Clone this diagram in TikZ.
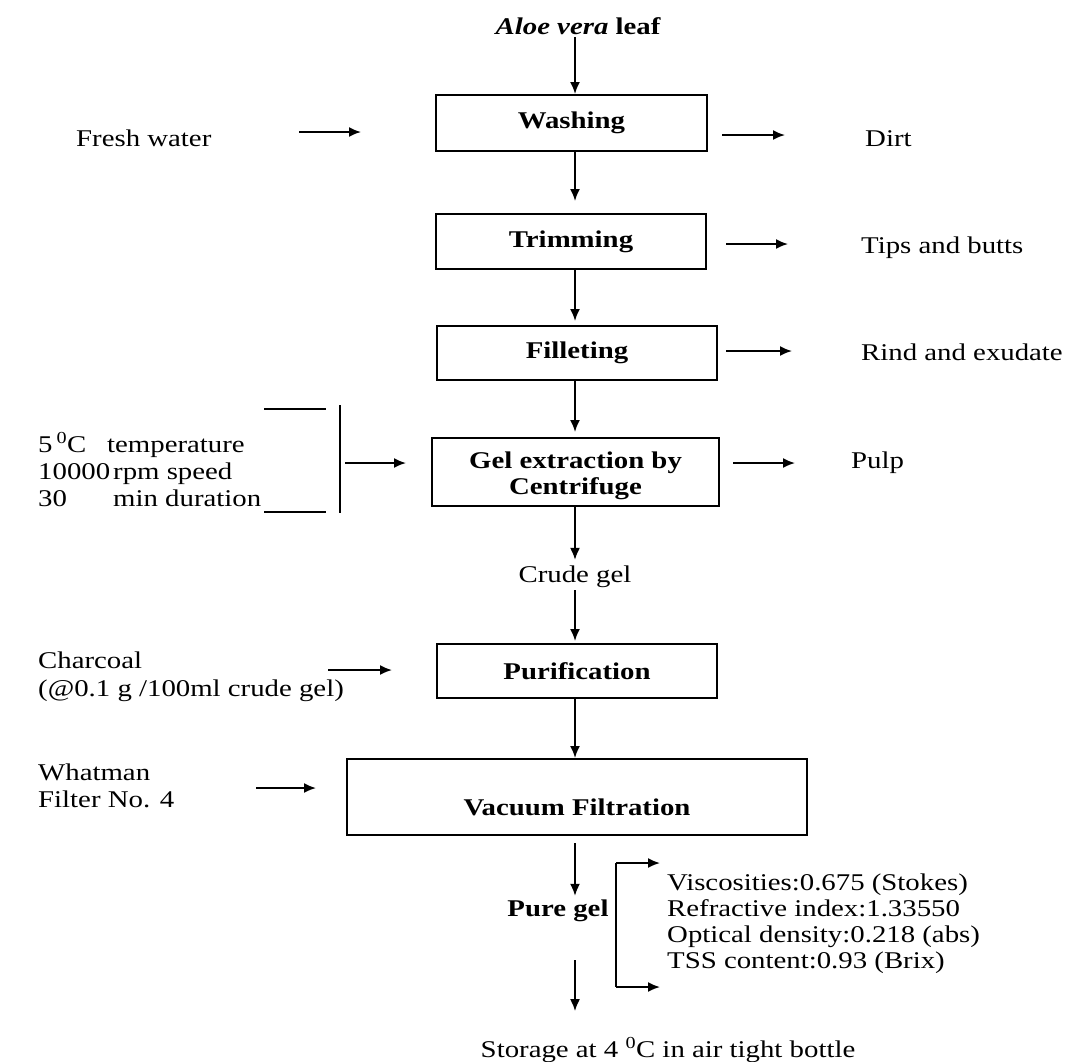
\documentclass[tikz,border=0pt]{standalone}
\usepackage{fontspec}
\setmainfont{Liberation Serif}[FakeStretch=1.2]
\usetikzlibrary{arrows.meta}
\begin{document}
\begin{tikzpicture}[x=1pt,y=-1pt,
  font=\fontsize{24}{26.5}\selectfont,
  box/.style={draw,line width=2pt,inner sep=0pt,align=center,font=\fontsize{24}{26}\selectfont\bfseries},
  lbl/.style={inner sep=0pt,align=left},
  blbl/.style={inner sep=0pt,align=center,font=\fontsize{24}{26.5}\selectfont\bfseries},
  arr/.style={line width=1.8pt,-{Latex[length=12pt,width=10pt]}},
  ln/.style={line width=1.8pt}]
\fill[white] (0,0) rectangle (1084,1061);
\useasboundingbox (0,0) rectangle (1084,1061);
\coordinate (sp) at (575,0);
% main column
\node[blbl] (aloe) at (578,26) {\textit{Aloe vera} leaf};
\node[box,minimum width=271pt,minimum height=56pt] (wash) at (571.5,123) {Washing};
\node[box,minimum width=270pt,minimum height=55pt] (trim) at (571,241.5) {Trimming};
\node[box,minimum width=280pt,minimum height=54pt] (fill) at (577,353) {Filleting};
\node[box,minimum width=287pt,minimum height=68pt] (gel) at (575.5,472) {};
\node[blbl] (gelt) at (575.5,476) {Gel extraction by\\Centrifuge};
\node[lbl] (crude) at (575,577) {Crude gel};
\node[box,minimum width=280pt,minimum height=54pt] (pur) at (577,671) {Purification};
\node[box,minimum width=460pt,minimum height=76pt] (vac) at (577,797) {};
\node[blbl] (vact) at (577,807) {Vacuum Filtration};
\node[blbl] (pure) at (558,911) {Pure gel};
\node[lbl] (store) at (668,1050) {Storage at 4 \textsuperscript{0}C in air tight bottle};
% vertical arrows
\draw[arr,shorten <=2pt] (aloe.south -| sp) -- (wash.north -| sp);
\draw[arr,shorten >=12pt] (wash.south -| sp) -- (trim.north -| sp);
\draw[arr,shorten >=4pt] (trim.south -| sp) -- (fill.north -| sp);
\draw[arr,shorten >=5pt] (fill.south -| sp) -- (gel.north -| sp);
\draw[arr,shorten >=6pt] (gel.south -| sp) -- (crude.north -| sp);
\draw[arr,shorten <=2pt,shorten >=2pt] (crude.south -| sp) -- (pur.north -| sp);
\draw[arr] (pur.south -| sp) -- (vac.north -| sp);
\draw[arr,shorten <=7pt,shorten >=4pt] (vac.south -| sp) -- (pure.north -| sp);
\draw[arr,shorten <=38pt,shorten >=26pt] (pure.south -| sp) -- (store.north -| sp);
% side texts
\node[lbl,anchor=west] (fresh) at (76,138) {Fresh water};
\node[lbl,anchor=west] (dirt) at (865,139) {Dirt};
\node[lbl,anchor=west] (tips) at (861,248) {Tips and butts};
\node[lbl,anchor=west] (rind) at (861,352) {Rind and exudate};
\node[lbl,anchor=west] (pulp) at (851,463) {Pulp};
\node[lbl,anchor=west,font=\fontsize{24}{27}\selectfont] (cond) at (38,470)
  {\makebox[69pt][l]{5\,\textsuperscript{0}C}temperature\\
   10000\hspace{3pt}rpm speed\\
   \makebox[75pt][l]{30}min duration};
\node[lbl,anchor=west,font=\fontsize{24}{28}\selectfont] (charc) at (38,677) {Charcoal\\(@0.1 g /100ml crude gel)};
\node[lbl,anchor=west,font=\fontsize{24}{27}\selectfont] (what) at (38,786) {Whatman\\Filter No. 4};
\node[lbl,anchor=west,font=\fontsize{24}{26}\selectfont] (props) at (667,924)
  {Viscosities:0.675 (Stokes)\\Refractive index:1.33550\\Optical density:0.218 (abs)\\TSS content:0.93 (Brix)};
% side arrows
\coordinate (fw1) at (299,132); \coordinate (fw2) at (361,132);
\draw[arr] (fw1) -- (fw2);
\coordinate (di1) at (722,135); \coordinate (di2) at (785,135);
\draw[arr] (di1) -- (di2);
\coordinate (ti1) at (726,244); \coordinate (ti2) at (788,244);
\draw[arr] (ti1) -- (ti2);
\coordinate (ri1) at (726,351); \coordinate (ri2) at (792,351);
\draw[arr] (ri1) -- (ri2);
\coordinate (pu1) at (733,463); \coordinate (pu2) at (795,463);
\draw[arr] (pu1) -- (pu2);
% left bracket
\coordinate (lb1) at (264,409); \coordinate (lb2) at (326,409);
\coordinate (lb3) at (264,512); \coordinate (lb4) at (326,512);
\coordinate (lv1) at (340,405); \coordinate (lv2) at (340,513);
\draw[ln] (lb1) -- (lb2);
\draw[ln] (lb3) -- (lb4);
\draw[ln] (lv1) -- (lv2);
\coordinate (la1) at (345,463); \coordinate (la2) at (406,463);
\draw[arr] (la1) -- (la2);
\coordinate (ch1) at (328,670); \coordinate (ch2) at (392,670);
\draw[arr] (ch1) -- (ch2);
\coordinate (wh1) at (256,788); \coordinate (wh2) at (316,788);
\draw[arr] (wh1) -- (wh2);
% right bracket at pure gel
\coordinate (rv1) at (616,863); \coordinate (rv2) at (616,987);
\coordinate (rt) at (660,863); \coordinate (rb) at (660,987);
\draw[ln] (rv1) -- (rv2);
\draw[arr] (rv1) -- (rt);
\draw[arr] (rv2) -- (rb);
\end{tikzpicture}
\end{document}
